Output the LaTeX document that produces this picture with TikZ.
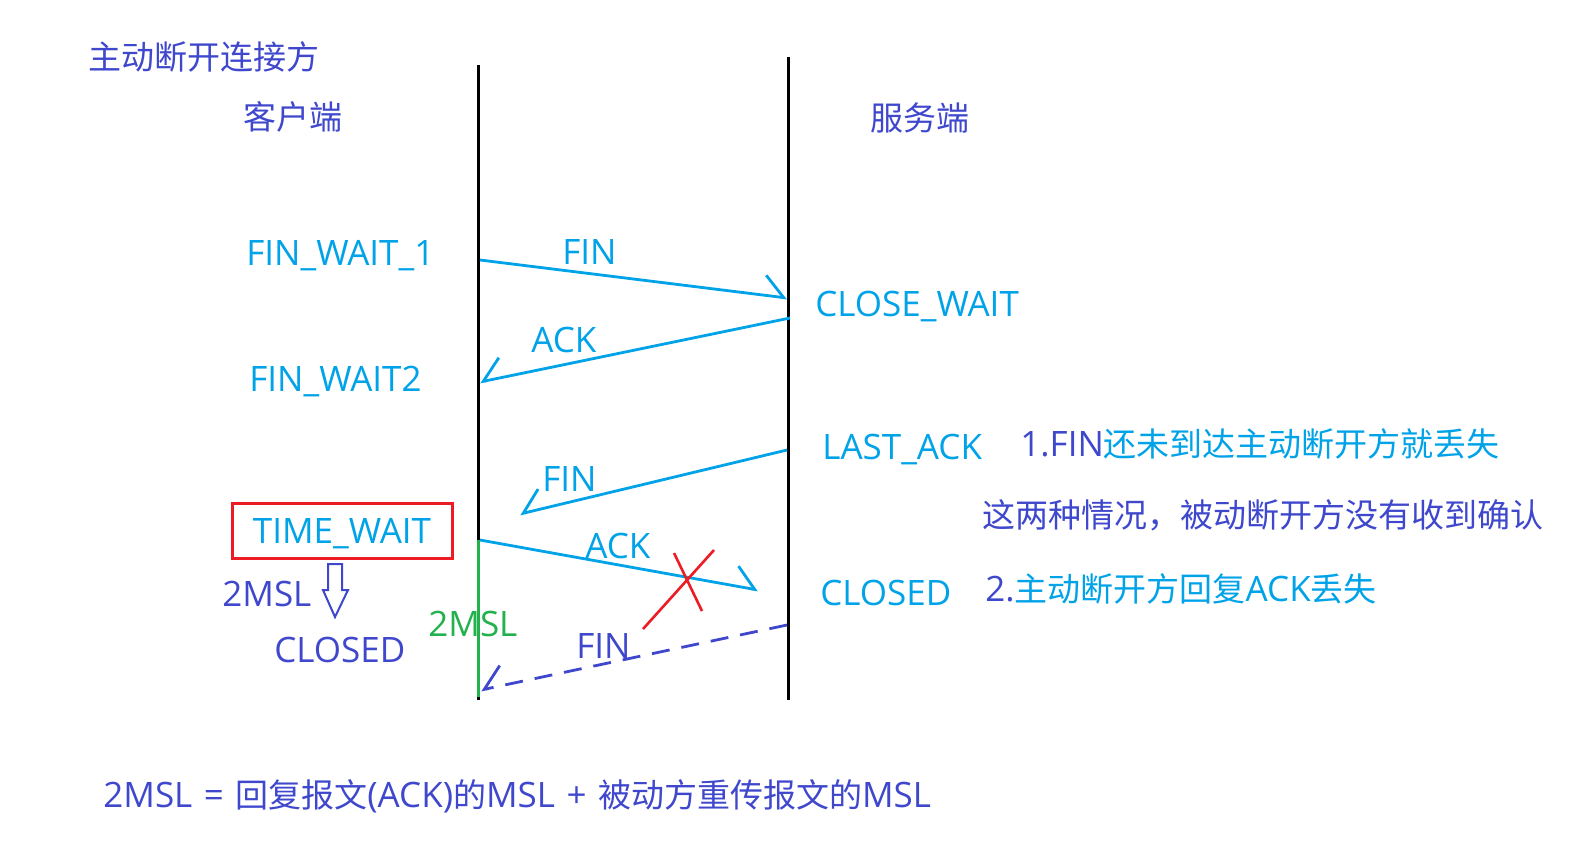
\documentclass[tikz,border=0pt]{standalone}
\usepackage{fontspec}
\setmainfont{Open Sans}
\newfontfamily\zhfont{Noto Sans CJK SC}
\usetikzlibrary{arrows.meta,positioning}
\definecolor{cy}{RGB}{0,162,232}
\definecolor{ind}{RGB}{63,72,204}
\definecolor{gr}{RGB}{34,177,76}
\definecolor{rd}{RGB}{237,28,36}
\newcommand{\zh}[1]{{\zhfont\fontsize{16.5}{20}\selectfont #1}}

\begin{document}
\begin{tikzpicture}[x=0.5pt,y=-0.5pt,
    lbl/.style={inner sep=0pt,anchor=base west,font=\fontsize{17.5}{20}\selectfont},
    zhlbl/.style={inner sep=0pt,anchor=base west,font=\zhfont\fontsize{16.5}{20}\selectfont},
    life/.style={line width=1.5pt},
    msg/.style={cy,line width=1.4pt},
    tipL/.style={-{Straight Barb[left,length=10pt,width=20pt]}},
    tipR/.style={-{Straight Barb[right,length=10pt,width=20pt]}},
]
\useasboundingbox (0,0) rectangle (1572,847);

% lifelines
\coordinate (cTop) at (478,65);
\coordinate (cBot) at (478,700);
\coordinate (sTop) at (788,57);
\coordinate (sBot) at (788,700);
\draw[life] (cTop) -- (cBot);
\draw[life] (sTop) -- (sBot);

% headings
\node[zhlbl,ind] (title) at (88,69) {主动断开连接方};
\node[zhlbl,ind] (client) at (243,129) {客户端};
\node[zhlbl,ind] (server) at (870,130) {服务端};

% states
\node[lbl,cy] (fw1) at (246,265) {FIN\_WAIT\_1};
\node[lbl,cy] (cw) at (815,316) {CLOSE\_WAIT};
\node[lbl,cy] (fw2) at (249,391) {FIN\_WAIT2};
\node[lbl,cy] (la) at (822,459) {LAST\_ACK};
\node[lbl,cy] (sc) at (820,605) {CLOSED};
\node[draw=rd,line width=1.5pt,minimum width=110pt,minimum height=27.5pt,inner sep=0pt,text depth=0pt,
      font=\fontsize{17.5}{20}\selectfont,text=cy] (tw) at (342,530.5) {TIME\_WAIT};
\node[lbl,ind] (msl) at (222,606) {2MSL};
\node[lbl,ind] (cc) at (274,662) {CLOSED};
\draw[ind,line width=1pt] (328,564) -- (342,564) -- (342,590) -- (348,590) -- (335,617) -- (323,590) -- (328,590) -- cycle;

% messages
\coordinate (f1a) at (480,260);
\coordinate (f1b) at (787,298);
\coordinate (a1a) at (790,318);
\coordinate (a1b) at (480,382);
\coordinate (f2a) at (787,450);
\coordinate (f2b) at (520,514);
\coordinate (a2a) at (480,540);
\coordinate (a2b) at (758,590);
\coordinate (f3a) at (787,625);
\coordinate (f3b) at (481,690);
\draw[msg,tipL] (f1a) -- (f1b);
\draw[msg,tipR] (a1a) -- (a1b);
\draw[msg,tipR] (f2a) -- (f2b);
\draw[msg,tipL] (a2a) -- (a2b);
\draw[msg,ind,tipR,dash pattern=on 9pt off 6pt] (f3a) -- (f3b);
\node[lbl,cy] (m1) at (562,264) {FIN};
\node[lbl,cy] (m2) at (531,352) {ACK};
\node[lbl,cy] (m3) at (542,491) {FIN};
\node[lbl,cy] (m4) at (585,558) {ACK};
\node[lbl,ind] (m5) at (576,658) {FIN};

% 2MSL on the client side
\coordinate (gTop) at (478,540);
\coordinate (gBot) at (478,697);
\draw[gr,life] (gTop) -- (gBot);
\node[lbl,gr] (gm) at (428,636) {2MSL};

% lost ACK
\draw[rd,line width=1.3pt] (674,553) -- (702,611);
\draw[rd,line width=1.3pt] (714,550) -- (643,629);

% notes
\node[lbl,cy] (n1) at (1020,456) {{\color{ind}1.FIN}\zh{还未到达主动断开方就丢失}};
\node[zhlbl,ind] (n2) at (982,527) {这两种情况，被动断开方没有收到确认};
\node[lbl,cy] (n3) at (985,601) {{\color{ind}2.}\zh{主动断开方回复}ACK\zh{丢失}};
\node[lbl,ind] (eq) at (103,807) {2MSL \hspace{1.2pt}= \hspace{1.2pt}\zh{回复报文}(ACK)\zh{的}MSL \hspace{1.2pt}+ \hspace{1.2pt}\zh{被动方重传报文的}MSL};
\end{tikzpicture}
\end{document}
